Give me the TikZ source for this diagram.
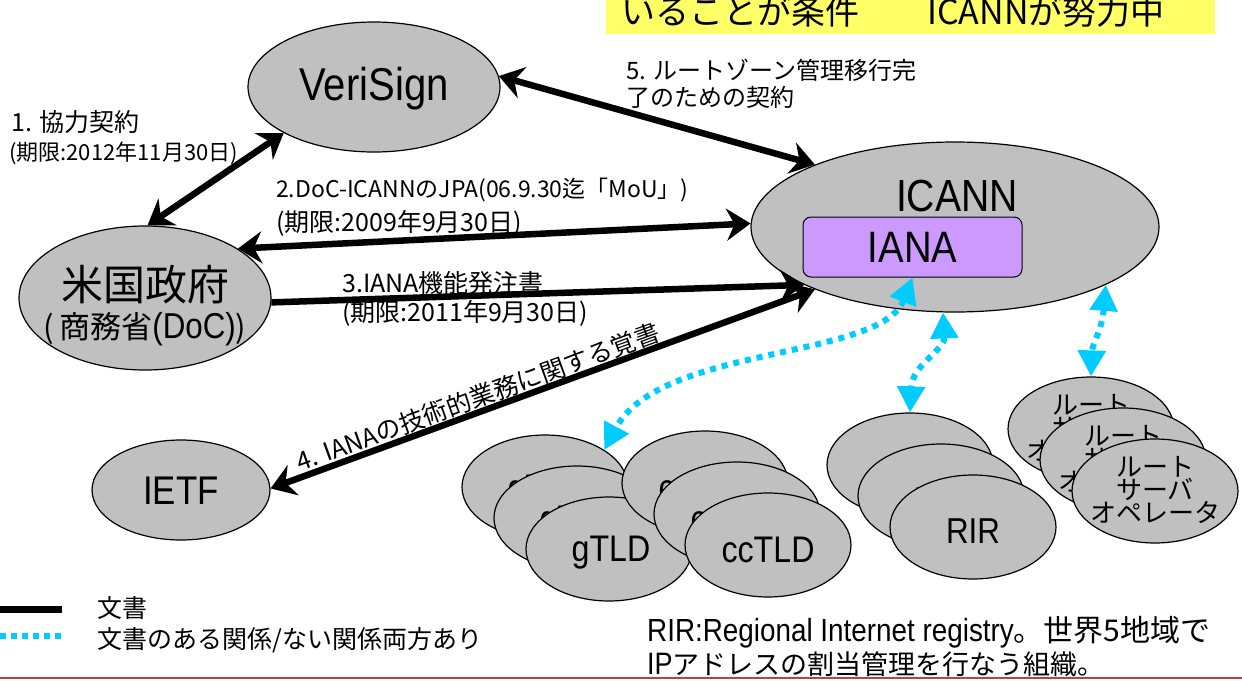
\documentclass[tikz,border=0pt]{standalone}
\usepackage{fontspec}
\setmainfont[FakeStretch=0.87]{Liberation Sans}
\newfontfamily\jp{Noto Sans CJK JP}
\usetikzlibrary{arrows.meta,shapes.geometric}
\definecolor{gfill}{RGB}{192,192,192}
\definecolor{ianafill}{RGB}{204,153,255}
\definecolor{cy}{RGB}{0,204,255}
\definecolor{ylw}{RGB}{255,255,102}
\definecolor{redln}{RGB}{192,64,64}
\newcommand\fsz[1]{\fontsize{#1}{#1}\selectfont}
\tikzset{
 dtip/.tip={Stealth[length=24pt,width=32pt,inset=8pt]},
 ctip/.tip={Triangle[length=26pt,width=27pt]},
 ell/.style={ellipse,draw=black,line width=1.2pt,fill=gfill,inner sep=0pt},
 cl/.style={ell,minimum width=166pt,minimum height=104pt},
 txt/.style={inner sep=0pt,text=black},
 doc/.style={draw=black,line width=6.5pt},
 rel/.style={draw=cy,line width=6pt,dash pattern=on 6pt off 6pt},
}
\begin{document}
\begin{tikzpicture}[x=1pt,y=-1pt]
\useasboundingbox (0,0) rectangle (1242,680);
\begin{scope}
\clip (0,0) rectangle (1242,680);
% yellow banner
\node (ybox) [fill=ylw,inner sep=0pt,minimum width=609pt,minimum height=50pt] at (910.5,9) {};
\node[txt,font=\jp\fsz{34}] (ytext) at (893,12) {いることが条件　　ICANNが努力中};
\end{scope}

% main ellipses
\node[ell,minimum width=252pt,minimum height=130pt] (V) at (374,87) {};
\node[txt,font=\fsz{46}] (Vt) at (374,89) {VeriSign};
\node[ell,minimum width=408pt,minimum height=170pt] (I) at (955,227) {};
\node[txt,font=\fsz{45}] (It) at (957,196) {ICANN};
\node[draw=black,line width=1pt,fill=ianafill,rounded corners=8pt,minimum width=219pt,minimum height=60pt,inner sep=0pt,font=\fsz{44}] (IANA) at (912.5,247) {IANA};
\node[ell,minimum width=252pt,minimum height=144pt] (G) at (145,298) {};
\node[txt,font=\jp\fsz{42}] (Gt1) at (145,285) {米国政府};
\node[txt] (Gt2) at (145,329) {{\jp\fsz{31}(\,商務省}{\fsz{36}(DoC)}{\jp\fsz{31})}};
\node[ell,minimum width=178pt,minimum height=100pt] (E) at (181,490) {};
\node[txt,font=\fsz{40}] (Et) at (181,491) {IETF};

% gTLD cluster
\node[cl] (gb) at (545,487) {};
\node[txt,font=\fsz{37}] at (547,492) {gTLD};
\node[cl] (gm) at (577,518) {};
\node[txt,font=\fsz{37}] at (579,523) {gTLD};
\node[cl] (gf) at (609,549) {};
\node[txt,font=\fsz{37}] (gft) at (611,553) {gTLD};
% ccTLD cluster
\node[cl] (cb) at (705,483) {};
\node[txt,font=\fsz{37}] at (705,488) {ccTLD};
\node[cl] (cm) at (737,514) {};
\node[txt,font=\fsz{37}] at (737,519) {ccTLD};
\node[cl] (cf) at (768,545) {};
\node[txt,font=\fsz{37}] (cft) at (768,550) {ccTLD};
% RIR cluster
\node[cl] (rb) at (910,465) {};
\node[txt,font=\fsz{36}] at (910,469) {RIR};
\node[cl] (rm) at (941,496) {};
\node[txt,font=\fsz{36}] at (941,500) {RIR};
\node[cl] (rf) at (973,527) {};
\node[txt,font=\fsz{36}] (rft) at (973,531) {RIR};
% root server cluster
\node[cl] (sb) at (1091,429) {};
\node[txt,font=\jp\fsz{26},align=center] at (1091,428) {ルート\\[-3pt]サーバ\\[-3pt]オペレータ};
\node[cl] (sm) at (1123,460) {};
\node[txt,font=\jp\fsz{26},align=center] at (1123,459) {ルート\\[-3pt]サーバ\\[-3pt]オペレータ};
\node[cl] (sf) at (1155,491) {};
\node[txt,font=\jp\fsz{26},align=center] (sft) at (1155,490) {ルート\\[-3pt]サーバ\\[-3pt]オペレータ};

% black document arrows
\draw[doc,dtip-dtip] (V.207) -- (G.88);
\draw[doc,dtip-dtip] (G.28) -- (I.179);
\draw[doc,-dtip] (G.-2) -- (I.201);
\draw[doc,dtip-dtip] (I.204) -- (E.1);
\draw[doc,dtip-dtip] (V.5) -- (I.156);

% cyan relation arrows
\draw[rel,ctip-ctip] (IANA.south) .. controls (880,360) and (660,345) .. (gb.32);
\draw[rel,ctip-ctip] (I.262) .. controls (945,350) and (912,365) .. (rb.north);
\draw[rel,ctip-ctip] (I.-21) .. controls (1102,330) and (1092,345) .. (sb.north);

% labels
\node[txt,font=\jp\fsz{25},anchor=west] (l1a) at (11,122) {1. 協力契約};
\node[txt,font=\jp\fsz{22},anchor=west] (l1b) at (9,153) {(期限:2012年11月30日)};
\node[txt,font=\jp\fsz{23},anchor=west] (l2a) at (276,190) {2.DoC-ICANNのJPA(06.9.30迄「MoU」)};
\node[txt,font=\jp\fsz{25},anchor=west] (l2b) at (276,223) {(期限:2009年9月30日)};
\node[txt,font=\jp\fsz{25},anchor=west] (l3a) at (342,283) {3.IANA機能発注書};
\node[txt,font=\jp\fsz{25},anchor=west] (l3b) at (342,313) {(期限:2011年9月30日)};
\node[txt,font=\jp\fsz{25},rotate=20] (l4) at (478,397) {4. IANAの技術的業務に関する覚書};
\node[txt,font=\jp\fsz{24},anchor=west] (l5a) at (626,70) {5. ルートゾーン管理移行完};
\node[txt,font=\jp\fsz{24},anchor=west] (l5b) at (626,97) {了のための契約};

% legend
\coordinate (k1a) at (0,609);
\coordinate (k1b) at (62,609);
\draw[draw=black,line width=7pt] (k1a) -- (k1b);
\coordinate (k2a) at (0,636);
\coordinate (k2b) at (62,636);
\draw[rel,dash pattern=on 6pt off 5pt] (k2a) -- (k2b);
\node[txt,font=\jp\fsz{25},anchor=west] (k1t) at (97,608) {文書};
\node[txt,font=\jp\fsz{25},anchor=west] (k2t) at (97,640) {文書のある関係/ない関係両方あり};

% note
\node[txt,anchor=west] (n1) at (647,632) {\fsz{32}RIR:Regional Internet registry{\jp\fsz{30}。世界5地域で}};
\node[txt,anchor=west] (n2) at (647,664) {\fsz{31}IP{\jp\fsz{27}アドレスの割当管理を行なう組織。}};

% bottom rule
\coordinate (b1) at (0,678);
\coordinate (b2) at (1242,678);
\draw[redln,line width=2pt] (b1) -- (b2);
\end{tikzpicture}
\end{document}
